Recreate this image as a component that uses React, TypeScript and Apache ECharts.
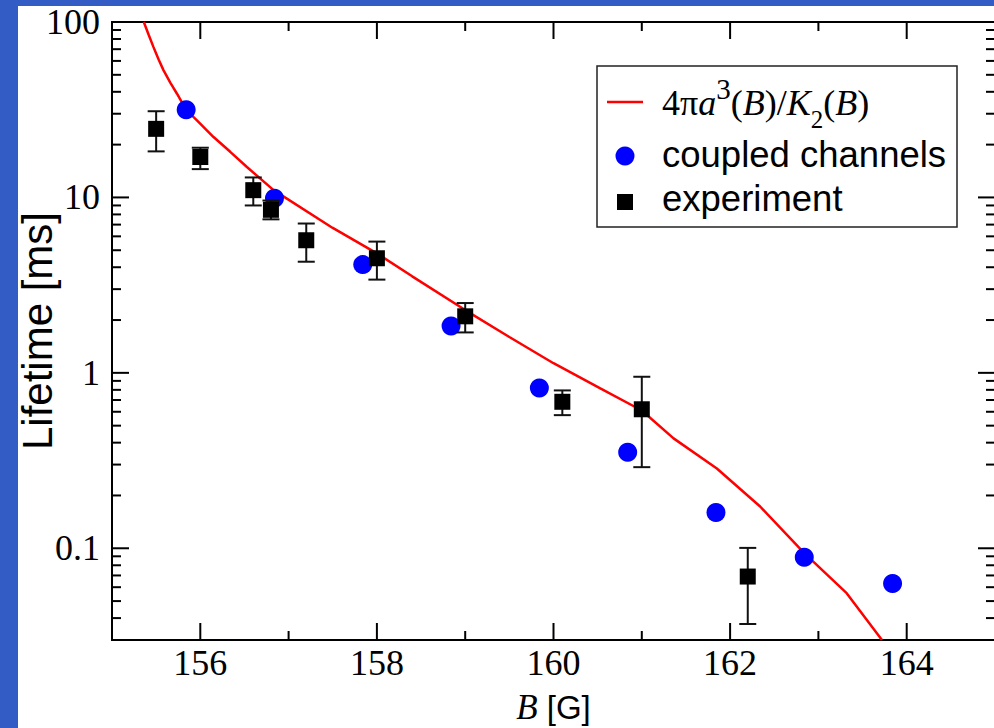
import React, { useEffect, useRef } from "react";
import * as echarts from "echarts";

// ---- data ----
const curveB = [155.36, 155.414, 155.47, 155.528, 155.584, 155.66, 155.736, 155.84, 155.962, 156.15, 156.339, 156.528, 156.83, 157.5, 158.0, 158.4, 159.0, 159.5, 160.0, 160.53, 161.0, 161.36, 161.85, 162.34, 162.84, 163.32, 163.72];
const curveV = [100, 84.9, 71.9, 61.1, 53.0, 45.1, 39.0, 31.6, 27.5, 22.1, 18.2, 14.9, 11.0, 6.7, 4.8, 3.55, 2.28, 1.6, 1.135, 0.815, 0.61, 0.423, 0.285, 0.173, 0.0938, 0.0555, 0.03];

const ccB = [155.84, 156.84, 157.84, 158.84, 159.84, 160.84, 161.84, 162.84, 163.84];
const ccV = [31.6, 9.9, 4.14, 1.85, 0.82, 0.353, 0.16, 0.089, 0.063];

const expB = [155.5, 156.0, 156.6, 156.8, 157.2, 158.0, 159.0, 160.1, 161.0, 162.2];
const expV = [24.6, 17.0, 11.0, 8.5, 5.7, 4.5, 2.1, 0.684, 0.62, 0.069];
const expHi = [31.0, 19.2, 13.0, 9.6, 7.1, 5.6, 2.5, 0.794, 0.95, 0.1005];
const expLo = [18.3, 14.5, 9.0, 7.5, 4.3, 3.4, 1.7, 0.574, 0.29, 0.037];

const xMajorTicks = [156, 158, 160, 162, 164];
const xMinorTicks = [157, 159, 161, 163];
const yMajorTicks = [0.1, 1, 10, 100];
const yMinorTicks = [
  0.04, 0.05, 0.06, 0.07, 0.08, 0.09,
  0.2, 0.3, 0.4, 0.5, 0.6, 0.7, 0.8, 0.9,
  2, 3, 4, 5, 6, 7, 8, 9,
  20, 30, 40, 50, 60, 70, 80, 90,
];
const yTickLabels: Record<string, string> = { "-1": "0.1", "0": "1", "1": "10", "2": "100" };

const seriesNames = ["4πa³(B)/K₂(B)", "coupled channels", "experiment"];

const SERIF = "'Liberation Serif', 'Times New Roman', serif";
const SANS = "'Liberation Sans', Arial, sans-serif";

export default function App() {
  const ref = useRef<HTMLDivElement>(null);
  useEffect(() => {
    document.body.style.margin = "0";
    const chart = echarts.init(ref.current!, null, { renderer: "svg" });

    const xTickData = [
      ...xMajorTicks.map((v) => [v, 1, 1]),
      ...xMinorTicks.map((v) => [v, 1, 0]),
    ];
    const yTickData = [
      ...yMajorTicks.map((v) => [160, v, 1]),
      ...yMinorTicks.map((v) => [160, v, 0]),
    ];
    const tickStyle = { stroke: "#000", lineWidth: 2 };
    const tickRich = { t: { fontFamily: SERIF, fontSize: 36, color: "#000" } };

    const option: any = {
      animation: false,
      backgroundColor: "transparent",
      textStyle: { fontFamily: SERIF },
      grid: {
        left: 112,
        top: 22,
        width: 883,
        height: 618,
        containLabel: false,
        outerBoundsMode: "none",
        show: true,
        borderColor: "#000",
        borderWidth: 2,
        backgroundColor: "transparent",
      },
      xAxis: {
        type: "value",
        min: 155,
        max: 165,
        interval: 1,
        splitLine: { show: false },
        axisTick: { show: false },
        axisLine: { show: true, lineStyle: { color: "#000", width: 2 } },
        axisLabel: {
          margin: 5,
          fontFamily: SERIF,
          fontSize: 36,
          color: "#000",
          rich: tickRich,
          formatter: (v: number) => (v % 2 === 0 ? `{t|${v}}` : ""),
        },
        name: "{i|B} {s|[G]}",
        nameLocation: "middle",
        nameGap: 50,
        nameMoveOverlap: false,
        nameTextStyle: {
          fontFamily: SANS,
          fontSize: 33,
          color: "#000",
          rich: {
            i: { fontFamily: SERIF, fontStyle: "italic", fontSize: 35, color: "#000" },
            s: { fontFamily: SANS, fontSize: 33, color: "#000" },
          },
        },
      },
      yAxis: {
        type: "log",
        logBase: 10,
        min: 0.03,
        max: 100,
        splitLine: { show: false },
        axisTick: { show: false },
        minorTick: { show: false },
        axisLine: { show: true, lineStyle: { color: "#000", width: 2 } },
        axisLabel: {
          margin: 12,
          fontFamily: SERIF,
          fontSize: 36,
          color: "#000",
          showMaxLabel: true,
          rich: tickRich,
          formatter: (v: number) => {
            const e = Math.log10(v);
            const r = Math.round(e);
            if (Math.abs(e - r) > 1e-6) return "";
            const s = yTickLabels[String(r)];
            return s ? `{t|${s}}` : "";
          },
        },
        name: "Lifetime [ms]",
        nameLocation: "middle",
        nameGap: 54,
        nameRotate: 90,
        nameMoveOverlap: false,
        nameTextStyle: { fontFamily: SANS, fontSize: 42, color: "#000" },
      },
      series: [
        {
          type: "custom",
          name: "xticks",
          silent: true,
          clip: false,
          encode: { x: 0, y: 1 },
          data: xTickData,
          renderItem: (params: any, api: any) => {
            const cs = params.coordSys;
            const p = api.coord([api.value(0), 1]);
            const len = api.value(2) ? 17 : 9;
            const bottom = cs.y + cs.height;
            return {
              type: "group",
              children: [
                { type: "line", shape: { x1: p[0], y1: bottom, x2: p[0], y2: bottom - len }, style: tickStyle },
                { type: "line", shape: { x1: p[0], y1: cs.y, x2: p[0], y2: cs.y + len }, style: tickStyle },
              ],
            };
          },
        },
        {
          type: "custom",
          name: "yticks",
          silent: true,
          clip: false,
          encode: { x: 0, y: 1 },
          data: yTickData,
          renderItem: (params: any, api: any) => {
            const cs = params.coordSys;
            const p = api.coord([160, api.value(1)]);
            const len = api.value(2) ? 17 : 9;
            const right = cs.x + cs.width;
            return {
              type: "group",
              children: [
                { type: "line", shape: { x1: cs.x, y1: p[1], x2: cs.x + len, y2: p[1] }, style: tickStyle },
                { type: "line", shape: { x1: right, y1: p[1], x2: right - len, y2: p[1] }, style: tickStyle },
              ],
            };
          },
        },
        {
          type: "line",
          name: seriesNames[0],
          data: curveB.map((b, i) => [b, curveV[i]]),
          showSymbol: false,
          symbol: "none",
          smooth: false,
          clip: true,
          z: 3,
          lineStyle: { color: "#ff0000", width: 2.5, opacity: 1 },
        },
        {
          type: "scatter",
          name: seriesNames[1],
          data: ccB.map((b, i) => [b, ccV[i]]),
          symbol: "circle",
          symbolSize: 19,
          z: 4,
          itemStyle: { color: "#0000ff", opacity: 1 },
        },
        {
          type: "custom",
          name: "errorbars",
          silent: true,
          clip: false,
          z: 5,
          encode: { x: 0, y: [1, 2] },
          data: expB.map((b, i) => [b, expLo[i], expHi[i]]),
          renderItem: (params: any, api: any) => {
            const x = api.value(0);
            const lo = api.coord([x, api.value(1)]);
            const hi = api.coord([x, api.value(2)]);
            const hw = 8.5;
            const st = { stroke: "#111", lineWidth: 2 };
            return {
              type: "group",
              children: [
                { type: "line", shape: { x1: lo[0], y1: lo[1], x2: hi[0], y2: hi[1] }, style: st },
                { type: "line", shape: { x1: lo[0] - hw, y1: lo[1], x2: lo[0] + hw, y2: lo[1] }, style: st },
                { type: "line", shape: { x1: hi[0] - hw, y1: hi[1], x2: hi[0] + hw, y2: hi[1] }, style: st },
              ],
            };
          },
        },
        {
          type: "scatter",
          name: seriesNames[2],
          data: expB.map((b, i) => [b, expV[i]]),
          symbol: "rect",
          symbolSize: 16,
          z: 6,
          itemStyle: { color: "#000", opacity: 1 },
        },
      ],
      graphic: [
        {
          type: "group",
          z: 100,
          children: [
            {
              type: "rect",
              shape: { x: 597, y: 66, width: 360, height: 161 },
              style: { fill: "#fff", stroke: "#222", lineWidth: 1.5 },
            },
            {
              type: "line",
              shape: { x1: 607, y1: 102, x2: 643, y2: 102 },
              style: { stroke: "#ff0000", lineWidth: 2.5 },
            },
            {
              type: "text",
              x: 662,
              y: 103,
              style: {
                text: "{n|4π}{i|a}{sup|3}{n|(}{i|B}{n|)/}{i|K}{sub|2}{n|(}{i|B}{n|)}",
                verticalAlign: "middle",
                align: "left",
                fill: "#000",
                font: `36px ${SERIF}`,
                rich: {
                  n: { fontFamily: SERIF, fontSize: 36, fill: "#000" },
                  i: { fontFamily: SERIF, fontSize: 36, fontStyle: "italic", fill: "#000" },
                  sup: { fontFamily: SERIF, fontSize: 29, padding: [0, 0, 28, 0], fill: "#000" },
                  sub: { fontFamily: SERIF, fontSize: 25, padding: [32, 0, 0, 0], fill: "#000" },
                },
              },
            },
            {
              type: "circle",
              shape: { cx: 625, cy: 156, r: 9.5 },
              style: { fill: "#0000ff" },
            },
            {
              type: "text",
              x: 662,
              y: 154,
              style: {
                text: seriesNames[1],
                verticalAlign: "middle",
                align: "left",
                fill: "#000",
                font: `36.5px ${SANS}`,
              },
            },
            {
              type: "rect",
              shape: { x: 617, y: 194, width: 16, height: 16 },
              style: { fill: "#000" },
            },
            {
              type: "text",
              x: 662,
              y: 198,
              style: {
                text: seriesNames[2],
                verticalAlign: "middle",
                align: "left",
                fill: "#000",
                font: `36.5px ${SANS}`,
              },
            },
          ],
        },
      ],
    };

    chart.setOption(option);
    return () => chart.dispose();
  }, []);

  return (
    <div style={{ position: "fixed", left: 0, top: 0, width: 994, height: 728, background: "#335dc5", overflow: "hidden" }}>
      <div style={{ position: "absolute", left: 18, top: 6, width: 976, height: 722, background: "#fff" }} />
      <div ref={ref} style={{ position: "absolute", left: 0, top: 0, width: 994, height: 728 }} />
    </div>
  );
}
